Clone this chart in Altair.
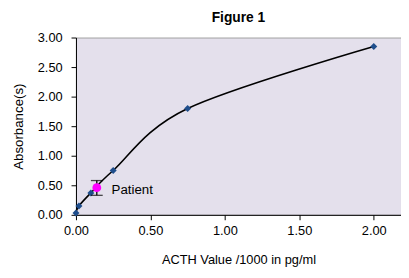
import altair as alt
import pandas as pd

conc = [0.0, 0.02, 0.10, 0.25, 0.75, 2.00]
absorb = [0.03, 0.15, 0.37, 0.75, 1.80, 2.85]

patient_x = [0.14]
patient_y = [0.46]
patient_lo = [0.33]
patient_hi = [0.58]
patient_label = ["Patient"]

x_ticks = [0, 0.5, 1, 1.5, 2]
y_ticks = [0, 0.5, 1, 1.5, 2, 2.5, 3]

std = pd.DataFrame({"x": conc, "y": absorb})
pat = pd.DataFrame({"x": patient_x, "y": patient_y, "lo": patient_lo, "hi": patient_hi, "label": patient_label})

xs = alt.Scale(domain=[0, 2.183], nice=False, zero=False)
ys = alt.Scale(domain=[0, 3], nice=False)

xax = alt.Axis(values=x_ticks, format=".2f", title="ACTH Value /1000 in pg/ml",
               titlePadding=16, labelPadding=5, labelOverlap=False, labelFlush=False,
               titleFontSize=13)
yax = alt.Axis(values=y_ticks, format=".2f", title="Absorbance(s)",
               titlePadding=12, labelPadding=9, labelOverlap=False, labelFlush=False,
               titleFontSize=13.5)

X = lambda f: alt.X(f, scale=xs, axis=xax)
Y = lambda f: alt.Y(f, scale=ys, axis=yax)

line = alt.Chart(std).mark_line(color="black", strokeWidth=1.6, interpolate="cardinal").encode(
    x=X("x:Q"), y=Y("y:Q"),
)
pts = alt.Chart(std).mark_point(shape="diamond", filled=True, color="#1F4E8C", size=50, opacity=1).encode(
    x=X("x:Q"), y=Y("y:Q")
)
err = alt.Chart(pat).mark_rule(color="black", strokeWidth=1.3).encode(
    x=X("x:Q"), y=Y("lo:Q"), y2="hi:Q"
)
caps_lo = alt.Chart(pat).mark_tick(color="black", orient="horizontal", size=12, thickness=1.3).encode(
    x=X("x:Q"), y=Y("lo:Q")
)
caps_hi = alt.Chart(pat).mark_tick(color="black", orient="horizontal", size=12, thickness=1.3).encode(
    x=X("x:Q"), y=Y("hi:Q")
)
dot = alt.Chart(pat).mark_point(shape="circle", filled=True, color="#FF00FF", size=80, opacity=1).encode(
    x=X("x:Q"), y=Y("y:Q")
)
lab = alt.Chart(pat).mark_text(align="left", dx=15, dy=2, fontSize=13.5, font="Liberation Sans", color="black").encode(
    x=X("x:Q"), y=Y("y:Q"), text="label:N"
)

chart = alt.layer(line, pts, err, caps_lo, caps_hi, dot, lab).properties(
    width=330, height=180,
    autosize=alt.AutoSizeParams(type="none"),
    padding={"left": 69, "right": 0, "top": 28, "bottom": 52},
    title=alt.TitleParams("Figure 1", fontSize=14, font="Liberation Sans", fontWeight="bold",
                          color="black", offset=7, anchor="middle"),
).configure_view(
    fill="#E4E0EC", stroke="#A0A0A0", strokeWidth=1
).configure_axis(
    labelFont="Liberation Sans", titleFont="Liberation Sans", labelFontSize=13,
    labelColor="black", titleColor="black", titleFontWeight="normal",
    domainColor="black", tickColor="black", tickSize=5, grid=False, domainWidth=1
)

chart.save("out.html", embed_options={"renderer": "svg", "actions": False})
